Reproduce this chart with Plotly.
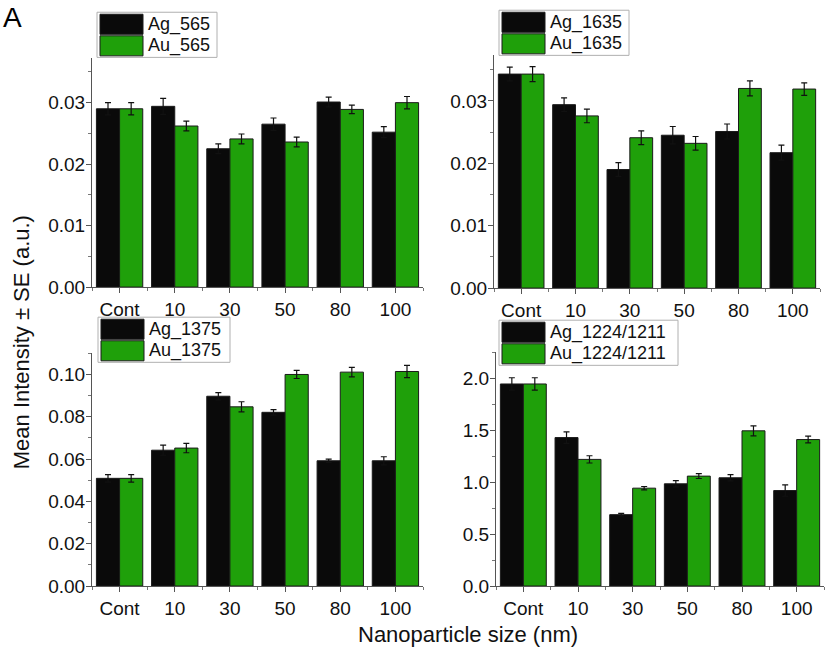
import plotly.graph_objects as go

W, H = 827, 649

categories = ["Cont", "10", "30", "50", "80", "100"]

# Panel 1: 565
ag_565 = [0.0290, 0.0294, 0.0225, 0.0265, 0.0301, 0.0252]
ag_565_se = [0.0010, 0.0013, 0.0008, 0.0010, 0.0008, 0.0009]
au_565 = [0.0290, 0.0262, 0.0241, 0.0236, 0.0289, 0.0300]
au_565_se = [0.0010, 0.0008, 0.0008, 0.0008, 0.0007, 0.0010]

# Panel 2: 1635
ag_1635 = [0.0343, 0.0294, 0.0190, 0.0245, 0.0251, 0.0217]
ag_1635_se = [0.0011, 0.0011, 0.0011, 0.0014, 0.0012, 0.0012]
au_1635 = [0.0343, 0.0276, 0.0241, 0.0232, 0.0320, 0.0319]
au_1635_se = [0.0012, 0.0011, 0.0011, 0.0011, 0.0012, 0.0010]

# Panel 3: 1375
ag_1375 = [0.0509, 0.0642, 0.0897, 0.0821, 0.0592, 0.0592]
ag_1375_se = [0.0018, 0.0024, 0.0017, 0.0013, 0.0008, 0.0019]
au_1375 = [0.0509, 0.0652, 0.0847, 0.1000, 0.1011, 0.1014]
au_1375_se = [0.0018, 0.0022, 0.0024, 0.0019, 0.0022, 0.0029]

# Panel 4: 1224/1211
ag_1224 = [1.945, 1.429, 0.687, 0.984, 1.042, 0.919]
ag_1224_se = [0.060, 0.055, 0.013, 0.030, 0.030, 0.055]
au_1224 = [1.945, 1.219, 0.942, 1.058, 1.494, 1.410]
au_1224_se = [0.060, 0.035, 0.016, 0.023, 0.048, 0.032]

legend_names = [("Ag_565", "Au_565"), ("Ag_1635", "Au_1635"),
                ("Ag_1375", "Au_1375"), ("Ag_1224/1211", "Au_1224/1211")]

y_tick_step = [0.01, 0.01, 0.02, 0.5]
y_minor_step = [0.005, 0.005, 0.01, 0.25]
y_max = [0.0372, 0.0373, 0.110, 2.25]
y_format = [".2f", ".2f", ".2f", ".1f"]

x_title = "Nanoparticle size (nm)"
y_title = "Mean Intensity ± SE (a.u.)"
panel_label = "A"

BLACK = "#0a0a0a"
GREEN = "#1fa00a"
FONT = "Liberation Sans, Arial, sans-serif"

# panel pixel boxes (left, right, top, bottom)
boxes = [(92, 423, 60, 288), (494, 820, 57, 289),
         (92, 423, 354, 586), (496, 824, 353, 586)]
# legend boxes (left, top, width)
leg_pos = [(97, 14, 120), (499, 12, 130), (98, 318, 132), (499, 321, 179)]

data = [(ag_565, ag_565_se, au_565, au_565_se),
        (ag_1635, ag_1635_se, au_1635, au_1635_se),
        (ag_1375, ag_1375_se, au_1375, au_1375_se),
        (ag_1224, ag_1224_se, au_1224, au_1224_se)]

fig = go.Figure()
xpos = list(range(len(categories)))

shapes = []
annotations = []

def px(x):
    return x / W

def py(y):
    y = (y - 1.8) / 0.98
    return min(1.0, 1 - y / H)

for i, (ag, ag_se, au, au_se) in enumerate(data):
    n = "" if i == 0 else str(i + 1)
    xa, ya = "x" + n, "y" + n
    for vals, se, col, name in ((ag, ag_se, BLACK, legend_names[i][0]),
                                (au, au_se, GREEN, legend_names[i][1])):
        fig.add_trace(go.Bar(
            x=xpos, y=vals, name=name, xaxis=xa, yaxis=ya,
            marker=dict(color=col, line=dict(color="#1a1a1a", width=1)),
            error_y=dict(type="data", array=se, visible=True,
                         color="#111111", thickness=1.2, width=3),
            showlegend=False, offsetgroup=name[:2],
        ))
    l, r, t, b = boxes[i]
    xkey = "xaxis" + n
    ykey = "yaxis" + n
    fig.layout[xkey] = dict(
        domain=[px(l), px(r)], anchor=ya, range=[-0.5, 5.5],
        tickmode="array", tickvals=xpos, ticktext=categories,
        showline=True, linecolor="#555555", linewidth=1,
        ticks="outside", ticklen=5, tickcolor="#555555",
        minor=dict(tickmode="linear", tick0=0.5, dtick=1, ticks="outside",
                   ticklen=3, tickcolor="#777777"),
        showgrid=False, zeroline=False,
        tickfont=dict(family=FONT, size=19, color="#111111"),
        fixedrange=True,
    )
    fig.layout[ykey] = dict(
        domain=[py(b), py(t)], anchor=xa, range=[0, y_max[i]],
        dtick=y_tick_step[i], tick0=0, tickformat=y_format[i],
        showline=True, linecolor="#555555", linewidth=1,
        ticks="outside", ticklen=5, tickcolor="#555555",
        minor=dict(dtick=y_minor_step[i], ticks="outside", ticklen=3,
                   tickcolor="#777777"),
        showgrid=False, zeroline=False, ticklabelstandoff=-3,
        tickfont=dict(family=FONT, size=19, color="#111111"),
        fixedrange=True,
    )
    # legend box
    lx, lt, lw = leg_pos[i]
    shapes.append(dict(type="rect", xref="paper", yref="paper",
                       x0=px(lx), x1=px(lx + lw), y0=py(lt + 45), y1=py(lt),
                       line=dict(color="#b0b0b0", width=1), fillcolor="white",
                       layer="above"))
    for k, col in enumerate((BLACK, GREEN)):
        y0 = lt + 2 + k * 21.5
        shapes.append(dict(type="rect", xref="paper", yref="paper",
                           x0=px(lx + 3), x1=px(lx + 46), y0=py(y0 + 20), y1=py(y0),
                           line=dict(color="#1a1a1a", width=1), fillcolor=col,
                           layer="above"))
        annotations.append(dict(text=legend_names[i][k], xref="paper", yref="paper",
                                x=px(lx + 49), y=py(y0 + 10), xanchor="left",
                                yanchor="middle", showarrow=False,
                                font=dict(family=FONT, size=18, color="#111111")))

annotations.append(dict(text=x_title, xref="paper", yref="paper",
                        x=px(468), y=py(634), xanchor="center", yanchor="middle",
                        showarrow=False, font=dict(family=FONT, size=22, color="#111111")))
annotations.append(dict(text=y_title, xref="paper", yref="paper",
                        x=px(21), y=py(343), xanchor="center", yanchor="middle",
                        textangle=-90, showarrow=False,
                        font=dict(family=FONT, size=22, color="#111111")))
annotations.append(dict(text=panel_label, xref="paper", yref="paper",
                        x=px(1), y=1.0, xanchor="left", yanchor="top",
                        showarrow=False, font=dict(family=FONT, size=28, color="#000000")))

fig.update_layout(
    width=W, height=H, margin=dict(l=0, r=0, t=0, b=0),
    paper_bgcolor="white", plot_bgcolor="white",
    barmode="group", bargap=0.16, bargroupgap=0,
    shapes=shapes, annotations=annotations, showlegend=False,
    font=dict(family=FONT),
)

post = """
var de = document.documentElement, b = document.body;
[de, b].forEach(function(e){ e.style.margin='0'; e.style.padding='0'; e.style.overflow='hidden'; });
"""

fig.write_html("out.html", config={"displayModeBar": False}, post_script=post)
